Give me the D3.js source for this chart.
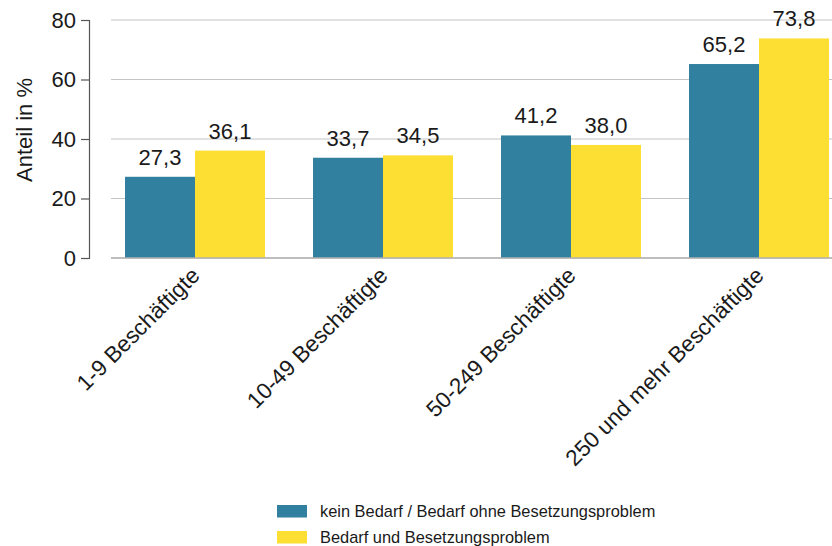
<!DOCTYPE html>
<html>
<head>
<meta charset="utf-8">
<script src="https://cdn.jsdelivr.net/npm/d3@7"></script>
<style>
  html, body { margin: 0; padding: 0; background: #fff; }
  text { font-family: "Liberation Sans", Arial, sans-serif; fill: #1a1a1a; }
</style>
</head>
<body>
<svg id="chart" width="832" height="546"></svg>
<script>
// Betriebsgröße (Kategorien)
const categories = ["1-9 Beschäftigte", "10-49 Beschäftigte", "50-249 Beschäftigte", "250 und mehr Beschäftigte"];
// Reihen
const seriesNames = ["kein Bedarf / Bedarf ohne Besetzungsproblem", "Bedarf und Besetzungsproblem"];
const keinBedarf = [27.3, 33.7, 41.2, 65.2];
const bedarfProblem = [36.1, 34.5, 38.0, 73.8];
const yTicks = [0, 20, 40, 60, 80];
const colors = ["#32809f", "#fdde33"];

const svg = d3.select("#chart");
const fmt = v => v.toFixed(1).replace(".", ",");

const y = d3.scaleLinear().domain([0, 80]).range([258, 20]);
const x0 = d3.scaleBand().domain(categories).range([101, 853])
  .paddingInner(48 / 188).paddingOuter(24 / 188);
const x1 = d3.scaleBand().domain([0, 1]).range([0, x0.bandwidth()]);

// Gitterlinien
svg.append("g").selectAll("line").data(yTicks).join("line")
  .attr("x1", 111).attr("x2", 832)
  .attr("y1", d => y(d)).attr("y2", d => y(d))
  .attr("stroke", "#c4c4c4").attr("stroke-width", 1.2);

// y-Achse
const yAxis = svg.append("g").attr("transform", "translate(89,0)")
  .call(d3.axisLeft(y).tickValues(yTicks).tickSize(8).tickPadding(5));
yAxis.select(".domain").attr("stroke", "#555").attr("stroke-width", 1.2);
yAxis.selectAll(".tick line").attr("stroke", "#555").attr("stroke-width", 1.2);
yAxis.selectAll(".tick text").attr("font-size", 22).attr("fill", "#1a1a1a")
  .style("font-family", "'Liberation Sans', Arial, sans-serif");

svg.append("text")
  .attr("transform", "translate(32,130) rotate(-90)")
  .attr("text-anchor", "middle")
  .attr("font-size", 22)
  .text("Anteil in %");

// Balken
const rows = categories.map((c, i) => ({ cat: c, vals: [keinBedarf[i], bedarfProblem[i]] }));
const groups = svg.append("g").selectAll("g").data(rows).join("g")
  .attr("transform", d => `translate(${x0(d.cat)},0)`);

groups.selectAll("rect").data(d => d.vals.map((v, k) => ({ v, k }))).join("rect")
  .attr("x", d => x1(d.k)).attr("width", x1.bandwidth())
  .attr("y", d => y(d.v)).attr("height", d => y(0) - y(d.v))
  .attr("fill", d => colors[d.k]);

groups.selectAll("text.val").data(d => d.vals.map((v, k) => ({ v, k }))).join("text")
  .attr("class", "val")
  .attr("x", d => x1(d.k) + x1.bandwidth() / 2)
  .attr("y", d => y(d.v) - 12)
  .attr("text-anchor", "middle")
  .attr("font-size", 22)
  .text(d => fmt(d.v));

// Grundlinie
svg.append("line").attr("x1", 111).attr("x2", 832)
  .attr("y1", y(0)).attr("y2", y(0))
  .attr("stroke", "#b0b0b0").attr("stroke-width", 1.5);

// Kategorienbeschriftung
svg.append("g").selectAll("text").data(categories).join("text")
  .attr("transform", d => `translate(${x0(d) + x0.bandwidth() / 2 + 6},277) rotate(-45)`)
  .attr("text-anchor", "end")
  .attr("font-size", 22.5)
  .text(d => d);

// Legende
const legend = svg.append("g").selectAll("g").data(seriesNames).join("g")
  .attr("transform", (d, i) => `translate(277,${505 + i * 26})`);
legend.append("rect").attr("width", 30).attr("height", 12.5)
  .attr("fill", (d, i) => colors[i]);
legend.append("text").attr("x", 43).attr("y", 11.8)
  .attr("font-size", 16.4).text(d => d);
</script>
</body>
</html>
